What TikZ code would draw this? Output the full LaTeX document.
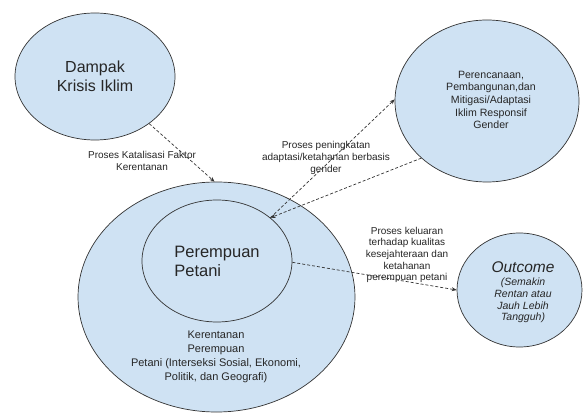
\documentclass[tikz,border=0pt]{standalone}
\usepackage{fontspec}
\setmainfont{Liberation Sans}
\usetikzlibrary{shapes.geometric,arrows.meta}
\definecolor{fillblue}{HTML}{CFE2F3}
\definecolor{edge}{HTML}{333333}
\definecolor{txt}{HTML}{262626}
\begin{document}
\begin{tikzpicture}[x=1pt,y=-1pt,
  blob/.style={ellipse, draw=edge, fill=fillblue, line width=0.7pt, inner sep=0pt, text=txt},
  lbl/.style={align=center, text=txt, font=\fontsize{10}{11.6}\selectfont, inner sep=0pt},
  flow/.style={draw=edge, line width=0.7pt, dash pattern=on 3pt off 2pt, -{Stealth[length=5pt,width=4pt]}}]
\useasboundingbox (0,0) rectangle (584,414);
\fill[white] (0,0) rectangle (584,414);
\node[blob, minimum width=160pt, minimum height=127pt, font=\fontsize{16}{19}\selectfont, align=center] (dampak) at (95,76.5) {Dampak\\Krisis Iklim};
\node[blob, minimum width=184pt, minimum height=162pt] (plan) at (487,101) {};
\node[align=center, text=txt, font=\fontsize{10.6}{12.6}\selectfont, inner sep=0pt] (plantext) at (491,100) {Perencanaan,\\Pembangunan,dan\\Mitigasi/Adaptasi\\Iklim Responsif\\Gender};
\node[blob, minimum width=277pt, minimum height=230pt] (outer) at (216.5,297) {};
\node[blob, minimum width=150pt, minimum height=122pt, font=\fontsize{16.5}{19}\selectfont, align=left] (inner) at (217,261) {Perempuan\\Petani};
\node[align=center, font=\fontsize{11}{14}\selectfont, text=txt, inner sep=0pt] (kerentanan) at (216,357) {Kerentanan\\Perempuan\\Petani (Interseksi Sosial, Ekonomi,\\Politik, dan Geografi)};
\node[blob, minimum width=125pt, minimum height=114pt] (outcome) at (519.5,290) {};
\node[text=txt, font=\fontsize{15.5}{18}\selectfont\itshape, inner sep=0pt] (outtitle) at (523,267) {Outcome};
\node[align=center, text=txt, font=\fontsize{10.5}{11.8}\selectfont\itshape, inner sep=0pt] (outsub) at (523,300.5) {(Semakin\\Rentan atau\\Jauh Lebih\\Tangguh)};
\node[lbl] (l1) at (142,161) {Proses Katalisasi Faktor\\Kerentanan};
\node[lbl] (l2) at (326,158) {Proses peningkatan\\adaptasi/ketahanan berbasis\\gender};
\node[lbl] (l3) at (407,255) {Proses keluaran\\terhadap kualitas\\kesejahteraan dan\\ketahanan\\perempuan petani};
\draw[flow] (dampak.-41) -- (outer.91);
\draw[flow] (inner.39) -- (plan.179);
\draw[flow] (plan.-139) -- (inner.39);
\draw[flow] (inner.-1) -- (outcome.180);
\end{tikzpicture}
\end{document}
